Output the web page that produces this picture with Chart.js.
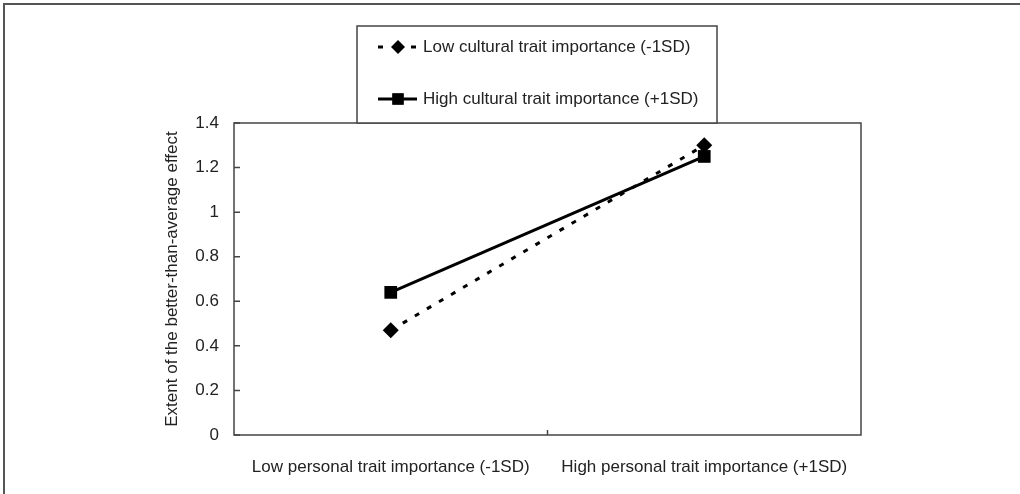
<!DOCTYPE html>
<html>
<head>
<meta charset="utf-8">
<script src="https://cdn.jsdelivr.net/npm/chart.js@4.4.0/dist/chart.umd.min.js"></script>
<style>
  html, body { margin: 0; padding: 0; background: #fff; }
  #wrap { width: 1020px; height: 494px; }
</style>
</head>
<body>
<div id="wrap"><canvas id="myChart" width="1020" height="494"></canvas></div>
<script>
const categories = ["Low personal trait importance (-1SD)", "High personal trait importance (+1SD)"];
const lowCultural = [0.47, 1.30];
const highCultural = [0.64, 1.25];
const seriesNames = ["Low cultural trait importance (-1SD)", "High cultural trait importance (+1SD)"];
const yTitle = "Extent of the better-than-average effect";

const FONT = "'Liberation Sans', Arial, sans-serif";
const TEXT = "#222";
const AXIS = "#444";

// frame, outer border, inward ticks and the boxed legend
const decorations = {
    id: "decorations",
    beforeDraw(chart) {
        const c = chart.ctx;
        c.save();
        c.strokeStyle = "#555";
        c.lineWidth = 2;
        c.beginPath();
        c.moveTo(4, chart.height);
        c.lineTo(4, 4);
        c.lineTo(chart.width, 4);
        c.stroke();
        c.restore();
    },
    afterDraw(chart) {
        const c = chart.ctx;
        const a = chart.chartArea;
        const xs = chart.scales.x;
        const ys = chart.scales.y;
        c.save();
        c.strokeStyle = AXIS;
        c.lineWidth = 1.5;
        c.strokeRect(a.left, a.top, a.right - a.left, a.bottom - a.top);

        // ticks point into the plot
        c.beginPath();
        const mid = (xs.getPixelForValue(0) + xs.getPixelForValue(1)) / 2;
        c.moveTo(mid, a.bottom);
        c.lineTo(mid, a.bottom - 5);
        ys.ticks.forEach(t => {
            const py = ys.getPixelForValue(t.value);
            c.moveTo(a.left, py);
            c.lineTo(a.left + 6, py);
        });
        c.stroke();

        // legend box sitting on top of the plot
        const bx = a.left + 123, bw = 360, bh = 97, by = a.top - bh;
        c.fillStyle = "#fff";
        c.fillRect(bx, by, bw, bh);
        c.strokeRect(bx, by, bw, bh);

        const rows = [by + 21, by + 73];
        chart.data.datasets.forEach((ds, i) => {
            const y = rows[i];
            c.strokeStyle = ds.borderColor;
            c.lineWidth = ds.borderWidth;
            c.setLineDash(ds.borderDash ? [5, 28] : []);
            c.beginPath();
            c.moveTo(bx + 21, y);
            c.lineTo(bx + 60, y);
            c.stroke();
            c.setLineDash([]);
            Chart.helpers.drawPoint(c, {
                pointStyle: ds.pointStyle,
                radius: ds.pointStyle === "rectRot" ? 7 : 8,
                borderWidth: 0
            }, bx + 41, y);
            c.fillStyle = ds.pointBackgroundColor;
            c.fill();
            c.fillStyle = TEXT;
            c.font = "17px " + FONT;
            c.textBaseline = "middle";
            c.textAlign = "left";
            c.fillText(ds.label, bx + 66, y);
        });
        c.restore();
    }
};

const ctx = document.getElementById("myChart").getContext("2d");

const myChart = new Chart(ctx, {
    type: "line",
    data: {
        labels: categories,
        datasets: [
            {
                label: seriesNames[0],
                data: lowCultural,
                borderColor: "#000",
                borderWidth: 3,
                borderDash: [5, 9],
                pointStyle: "rectRot",
                pointRadius: 8,
                pointBackgroundColor: "#000",
                pointBorderWidth: 0,
                fill: false,
                tension: 0
            },
            {
                label: seriesNames[1],
                data: highCultural,
                borderColor: "#000",
                borderWidth: 3,
                pointStyle: "rect",
                pointRadius: 9,
                pointBackgroundColor: "#000",
                pointBorderWidth: 0,
                fill: false,
                tension: 0
            }
        ]
    },
    options: {
        responsive: false,
        animation: false,
        layout: {
            padding: { top: 123, right: 159, bottom: 0, left: 150 }
        },
        plugins: {
            legend: { display: false },
            tooltip: { enabled: false }
        },
        scales: {
            x: {
                offset: true,
                grid: { display: false, offset: true },
                border: { display: false },
                ticks: { color: TEXT, padding: 14, font: { size: 17, family: FONT }, maxRotation: 0 },
                afterFit: (s) => { s.height = 59; }
            },
            y: {
                min: 0,
                max: 1.4,
                ticks: {
                    stepSize: 0.2,
                    color: TEXT,
                    padding: 15,
                    font: { size: 17, family: FONT },
                    callback: (v) => String(Math.round(v * 10) / 10)
                },
                grid: { drawOnChartArea: false, drawTicks: false },
                border: { display: false },
                title: {
                    display: true,
                    text: yTitle,
                    color: TEXT,
                    font: { size: 17, family: FONT },
                    padding: { top: 12, bottom: 0 }
                },
                afterFit: (s) => { s.width = 84; }
            }
        }
    },
    plugins: [decorations]
});
</script>
</body>
</html>
